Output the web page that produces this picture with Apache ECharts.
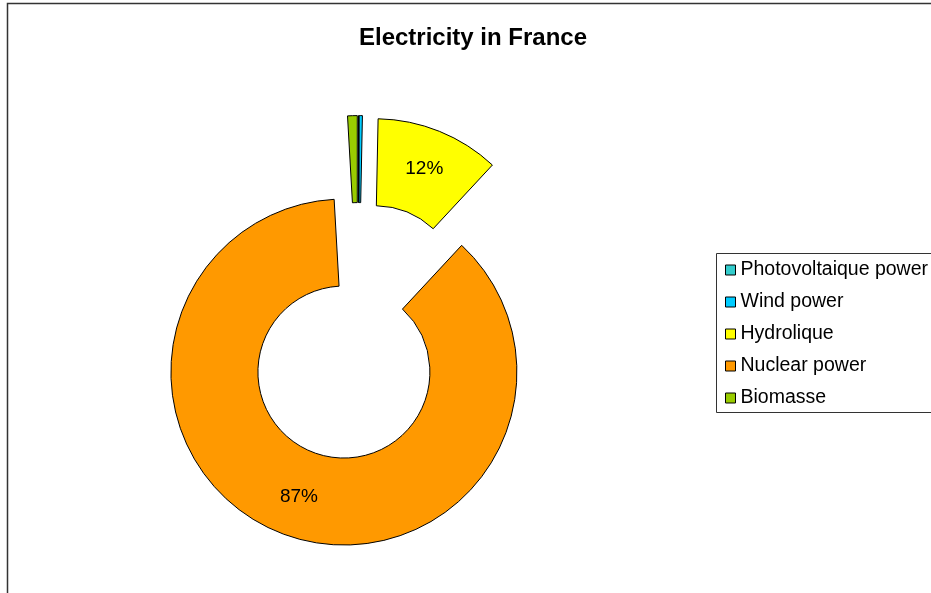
<!DOCTYPE html>
<html>
<head>
<meta charset="utf-8">
<script src="https://cdn.jsdelivr.net/npm/echarts@6/dist/echarts.min.js"></script>
<style>
html,body{margin:0;padding:0;background:#fff;}
#c{width:931px;height:593px;}
</style>
</head>
<body>
<div id="c"></div>
<script>
var title = 'Electricity in France';
var categories = ['Photovoltaique power', 'Wind power', 'Hydrolique', 'Nuclear power', 'Biomasse'];
var values = [0.02, 0.3, 11.6, 87.2, 0.9];
var labelled = [false, false, true, true, false];
var palette = ['#33CCCC', '#00CCFF', '#FFFF00', '#FF9900', '#99CC00'];

var FONT = '"Liberation Sans", Arial, sans-serif';
var chart = echarts.init(document.getElementById('c'), null, {renderer: 'canvas'});

var data = categories.map(function (name, i) {
  return {
    name: name,
    value: values[i],
    selected: true,
    itemStyle: {color: palette[i], borderColor: '#000', borderWidth: 1},
    select: {itemStyle: {color: palette[i], borderColor: '#000', borderWidth: 1}},
    label: {show: labelled[i]}
  };
});

chart.setOption({
  animation: false,
  backgroundColor: '#fff',
  color: palette,
  graphic: [
    {type: 'rect', shape: {x: 7.5, y: 3.5, width: 1000, height: 1000}, style: {fill: 'none', stroke: '#333', lineWidth: 1.5}, z: -10},
    {type: 'rect', shape: {x: 716.5, y: 253.5, width: 400, height: 159}, style: {fill: '#fff', stroke: '#333', lineWidth: 1}, z: -5},
    {type: 'text', x: 473, y: 38.5, style: {text: title, font: 'bold 24px ' + FONT, fill: '#000', textAlign: 'center', textVerticalAlign: 'middle'}}
  ],
  legend: {
    orient: 'vertical',
    left: 720,
    top: 255,
    itemWidth: 10,
    itemHeight: 10,
    itemGap: 12,
    icon: 'rect',
    selectedMode: false,
    itemStyle: {borderColor: '#000', borderWidth: 1},
    textStyle: {fontFamily: FONT, fontSize: 19.5, color: '#000', lineHeight: 20},
    data: categories
  },
  series: [{
    type: 'pie',
    center: [358.5, 331.6],
    radius: [86, 173],
    startAngle: 90,
    clockwise: true,
    selectedMode: 'multiple',
    selectedOffset: 43,
    avoidLabelOverlap: false,
    emphasis: {disabled: true},
    label: {
      show: false,
      position: 'inside',
      fontFamily: FONT,
      fontSize: 19,
      color: '#000',
      formatter: function (p) { return Math.round(p.percent) + '%'; }
    },
    labelLine: {show: false},
    data: data
  }]
});
</script>
</body>
</html>
